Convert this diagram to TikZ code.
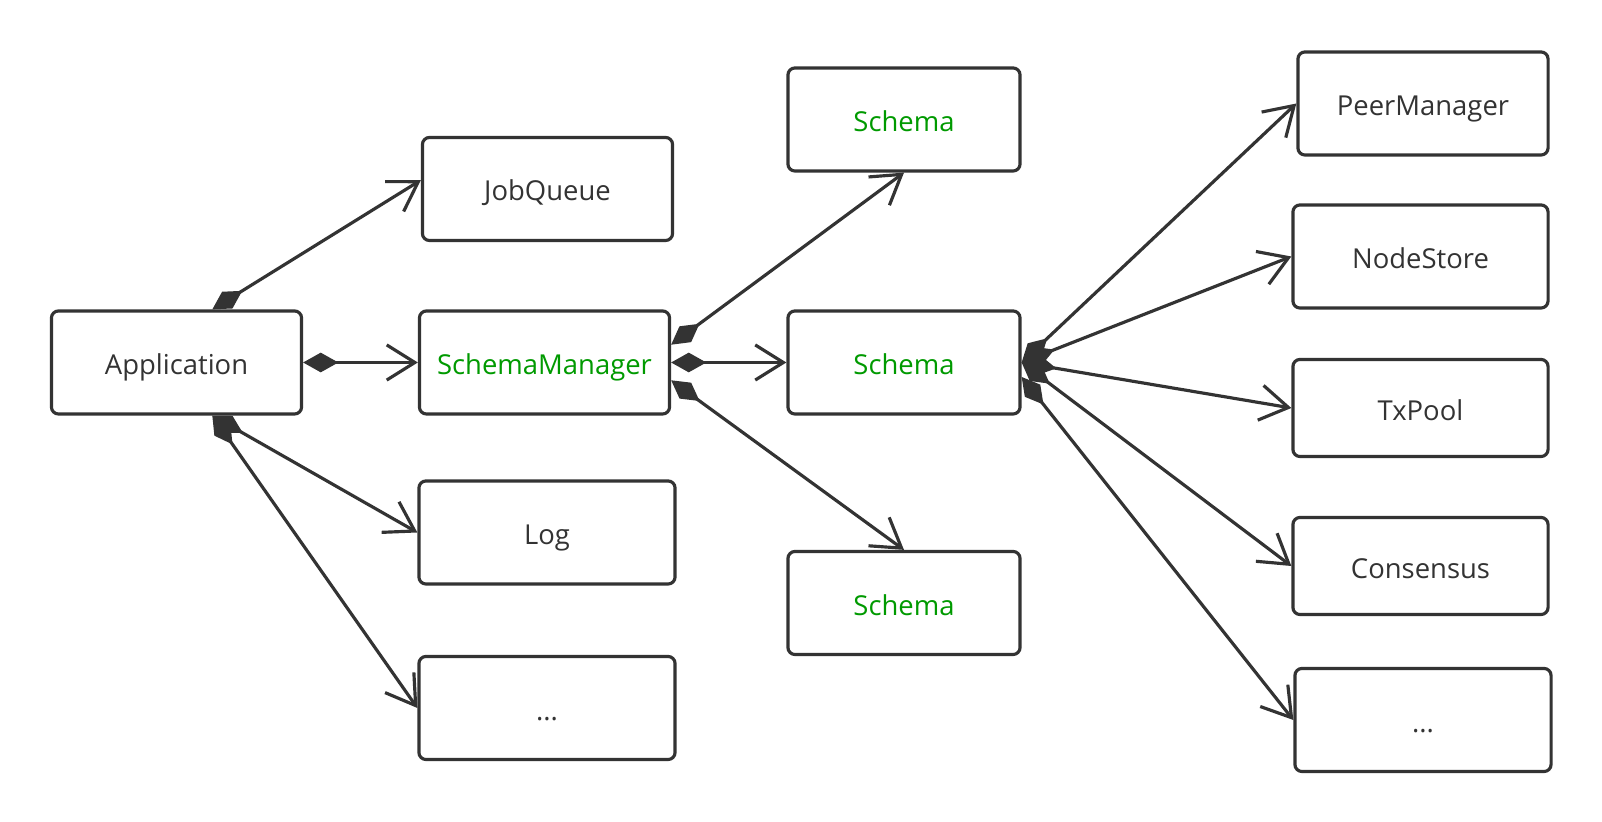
\documentclass[tikz,border=0pt]{standalone}
\usepackage{fontspec}
\setmainfont{Open Sans}
\usetikzlibrary{arrows.meta}
\definecolor{ink}{HTML}{333333}
\definecolor{grn}{HTML}{009A00}

\begin{document}
\begin{tikzpicture}[x=0.01cm,y=-0.01cm,
box/.style={draw=ink,line width=0.9pt,rounded corners=2pt,fill=white,
  text=ink,font=\fontsize{7.8}{9}\selectfont,inner sep=0pt,
  text height=2.4mm,text depth=0pt,
  minimum width=2.5cm,minimum height=1.03cm},
sch/.style={box,text=grn,minimum width=2.32cm},
comp/.style={draw=ink,line width=0.9pt,
  {Diamond[length=10pt,width=5.6pt]}-{Straight Barb[length=8pt,width=10pt]}}
]
\useasboundingbox (0,0) rectangle (1602,822);

\node[box] (app) at (176.5,362.5) {Application};
\node[box] (jobq) at (547.5,189) {JobQueue};
\node[sch,minimum width=2.5cm] (smgr) at (544.5,362.5) {SchemaManager};
\node[box,minimum width=2.56cm] (log) at (547,532.5) {Log};
\node[box,minimum width=2.56cm] (dotsl) at (547,708) {...};

\node[sch] (schtop) at (904,119.5) {Schema};
\node[sch] (schmid) at (904,362.5) {Schema};
\node[sch] (schbot) at (904,603) {Schema};

\node[box] (peer) at (1423,103.5) {PeerManager};
\node[box,minimum width=2.55cm] (nstore) at (1420.5,256.5) {NodeStore};
\node[box,minimum width=2.55cm,minimum height=0.97cm] (txpool) at (1420.5,408) {TxPool};
\node[box,minimum width=2.55cm,minimum height=0.97cm] (cons) at (1420.5,566) {Consensus};
\node[box,minimum width=2.56cm] (dotsr) at (1423,720) {...};

\draw[comp] (app.56) -- (jobq.176);
\draw[comp] (app.east) -- (smgr.west);
\draw[comp] (app.-56) -- (log.west);
\draw[comp] (app.-56) -- (dotsl.west);

\draw[comp] (smgr.8) -- (schtop.south);
\draw[comp] (smgr.east) -- (schmid.west);
\draw[comp] (smgr.-8) -- (schbot.north);

\foreach \t in {peer,nstore,txpool,cons} {
\draw[comp] (schmid.east) -- (\t.west);
};
\draw[comp] (schmid.-7) -- (dotsr.west);
\end{tikzpicture}
\end{document}
